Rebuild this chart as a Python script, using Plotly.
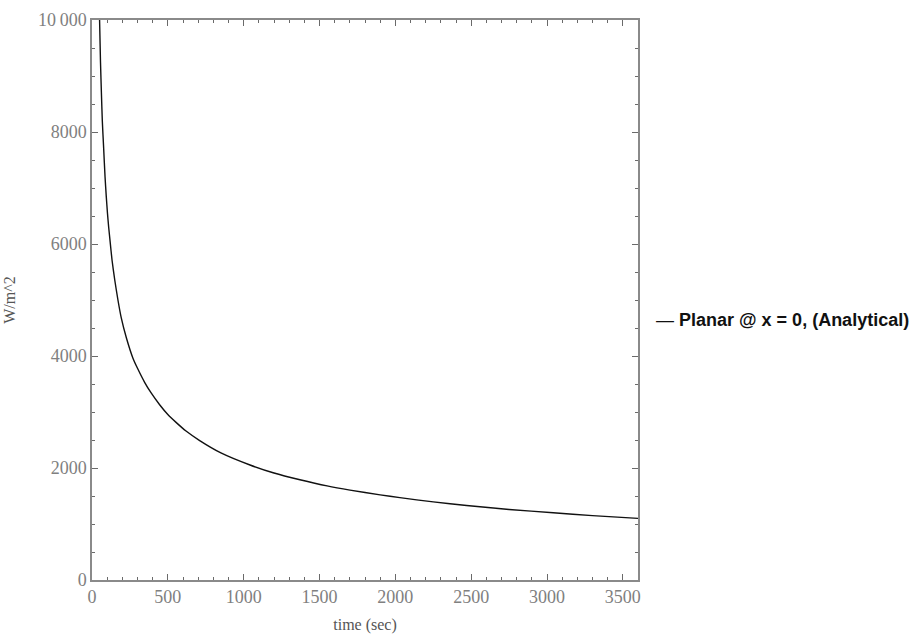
import plotly.graph_objects as go

# Data
time_sec = [50, 56, 62, 68, 77, 86, 94, 102, 110, 120, 132, 150, 171, 193, 226,
            270, 300, 347, 390, 446, 500, 556, 620, 710, 850, 1042, 1200, 1371,
            1550, 1701, 1900, 2030, 2250, 2470, 2750, 3041, 3300, 3600]
heat_flux = [10000, 9250, 8700, 8200, 7700, 7200, 6850, 6550, 6300, 6030, 5714,
             5357, 5000, 4680, 4330, 3960, 3780, 3530, 3340, 3130, 2955, 2810,
             2660, 2490, 2270, 2054, 1910, 1790, 1680, 1605, 1520, 1470, 1395,
             1330, 1260, 1200, 1150, 1100]
series_name = "Planar @ x = 0, (Analytical)"

x_tickvals = [0, 500, 1000, 1500, 2000, 2500, 3000, 3500]
y_tickvals = [0, 2000, 4000, 6000, 8000, 10000]
y_ticktext = ["0", "2000", "4000", "6000", "8000", "10\u2009000"]

fig = go.Figure()
fig.add_trace(go.Scatter(x=time_sec, y=heat_flux, mode="lines", name=series_name,
                         line=dict(color="#111111", width=1.4, shape="spline", smoothing=0.5),
                         showlegend=False))

serif = "Liberation Serif, DejaVu Serif, serif"
axis_common = dict(
    showgrid=False, zeroline=False, showline=True, linecolor="#8a8a8a", linewidth=1.5,
    mirror="allticks", ticks="inside", ticklen=6, tickwidth=1.2, tickcolor="#6a6a6a",
    tickfont=dict(family=serif, size=18, color="#808080"), automargin=False,
)

fig.update_xaxes(range=[0, 3600], tickvals=x_tickvals,
                 minor=dict(dtick=100, ticks="inside", ticklen=3, tickcolor="#6a6a6a", tickwidth=1),
                 title=dict(text="time (sec)", standoff=16,
                            font=dict(family=serif, size=16, color="#555555")),
                 **axis_common)
fig.update_yaxes(range=[0, 10000], tickvals=y_tickvals, ticktext=y_ticktext,
                 minor=dict(dtick=500, ticks="inside", ticklen=3, tickcolor="#6a6a6a", tickwidth=1),
                 title=dict(text="W/m^2", standoff=18,
                            font=dict(family=serif, size=16, color="#555555")),
                 **axis_common)

fig.add_annotation(xref="paper", yref="paper", x=1.03, y=0.464, xanchor="left", yanchor="middle",
                   showarrow=False, text="\u2014 <b>" + series_name + "</b>",
                   font=dict(family="Liberation Sans, Arial, sans-serif", size=18, color="#111111"))

fig.update_layout(width=924, height=634, margin=dict(l=92, r=286, t=20, b=54),
                  plot_bgcolor="white", paper_bgcolor="white")

fig.write_html("out.html")
